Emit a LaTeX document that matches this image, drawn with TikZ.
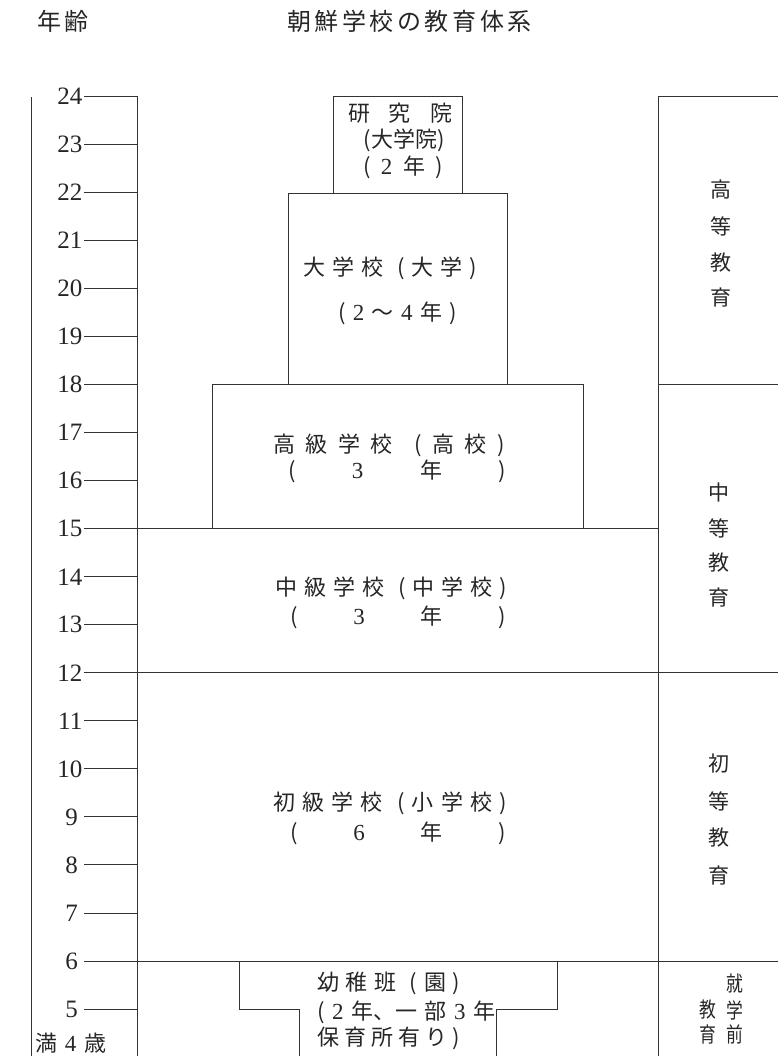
\documentclass[tikz,border=0pt]{standalone}
\usepackage{fontspec}
\newfontfamily\jp{Noto Sans CJK JP}
\newfontfamily\numf{Liberation Serif}
\newcommand\spr[2]{\makebox[#1][s]{#2}}
\newcommand\dg[1]{{\numf\fontsize{23}{23}\selectfont #1}}
\begin{document}
\begin{tikzpicture}[x=1pt,y=-1pt,
  ln/.style={draw=black!80, line width=1pt},
  num/.style={font=\numf\fontsize{25}{25}\selectfont, text=black!85, inner sep=0, anchor=east},
  jt/.style={font=\jp\fontsize{22}{27}\selectfont, text=black!85, inner sep=0},
  side/.style={font=\jp\fontsize{21}{24}\selectfont, text=black!85, inner sep=0},
  ttl/.style={font=\jp\fontsize{24}{28}\selectfont, text=black!85, inner sep=0}]
\useasboundingbox (0,0) rectangle (778,1056);
% titles
\node[ttl] (age) at (62,21) {\spr{50pt}{年 齢}};
\node[ttl] (title) at (406,21) {\spr{238pt}{朝 鮮 学 校 の 教 育 体 系}};
% axis
\draw[ln] (31.7,97) -- (31.7,1056);
\draw[ln] (137,96.5) -- (137,1056);
\foreach \a in {5,...,24}{
  \pgfmathsetmacro\yy{96.5+(24-\a)*48.03}
  \pgfmathsetmacro\xx{\a<10 ? 78 : 82.5}
  \node[num] (n\a) at (\xx,\yy) {\a};
  \draw[ln] (84,\yy) -- (137,\yy);
}
% research institute
\draw[ln] (333.3,193.3) -- (333.3,96.5) -- (462.7,96.5) -- (462.7,193.3);
\node[jt] (res1) at (400,113) {\spr{104pt}{研 究 院}};
\node[jt] (res2) at (404,140) {(大学院)};
\node[jt] (res3) at (403,167) {\spr{80pt}{( \dg{2} 年 )}};
% university
\draw[ln] (288.3,384.7) -- (288.3,193.3) -- (507.3,193.3) -- (507.3,384.7);
\node[jt] (uni1) at (390,268) {\spr{174pt}{大 学 校 \ ( 大 学 )}};
\node[jt] (uni2) at (397.5,313) {\spr{119pt}{( \dg{2} 〜 \dg{4} 年 )}};
% high school
\draw[ln] (212,528.8) -- (212,384.7) -- (583,384.7) -- (583,528.8);
\node[jt] (hs1) at (389,445) {\spr{232pt}{高 級 学 校 \ ( 高 校 )}};
\node[jt] (hs2) at (397,471) {\spr{218pt}{( \dg{3} 年 )}};
% middle school
\draw[ln] (137,528.8) -- (658,528.8);
\node[jt] (ms1) at (391,588) {\spr{232pt}{中 級 学 校 \ ( 中 学 校 )}};
\node[jt] (ms2) at (398,617) {\spr{216pt}{( \dg{3} 年 )}};
% elementary
\draw[ln] (137,672.9) -- (778,672.9);
\node[jt] (es1) at (390,803) {\spr{234pt}{初 級 学 校 \ ( 小 学 校 )}};
\node[jt] (es2) at (398,833) {\spr{216pt}{( \dg{6} 年 )}};
% kindergarten
\draw[ln] (137,961) -- (778,961);
\draw[ln] (239,961) -- (239,1009) -- (299,1009) -- (299,1056);
\draw[ln] (557,961) -- (557,1009) -- (496,1009) -- (496,1056);
\node[jt, anchor=west] (kg1) at (317,983) {\spr{143pt}{幼 稚 班\ \ ( 園 )}};
\node[jt, anchor=west] (kg2) at (317,1012) {\spr{178pt}{( \dg{2} 年、一 部 \dg{3} 年}};
\node[jt, anchor=west] (kg3) at (317,1038) {\spr{143pt}{保 育 所 有 り )}};
\node[jt, anchor=west] (age4) at (35,1043) {\spr{71pt}{満 \dg{4} 歳}};
% right column
\draw[ln] (658,96.5) -- (658,1056);
\draw[ln] (658,96.5) -- (778,96.5);
\draw[ln] (658,384.7) -- (778,384.7);
\node[side] (h1) at (721,190) {高};
\node[side] (h2) at (721,226) {等};
\node[side] (h3) at (721,263) {教};
\node[side] (h4) at (721,298) {育};
\node[side] (m1) at (719,493) {中};
\node[side] (m2) at (719,528) {等};
\node[side] (m3) at (719,563) {教};
\node[side] (m4) at (719,598) {育};
\node[side] (e1) at (719,764) {初};
\node[side] (e2) at (719,801) {等};
\node[side] (e3) at (719,838) {教};
\node[side] (e4) at (719,875) {育};
\node[side] (p1) at (735,984) {\scalebox{0.8}[1]{就}};
\node[side] (p2) at (735,1010) {\scalebox{0.8}[1]{学}};
\node[side] (p3) at (735,1034) {\scalebox{0.8}[1]{前}};
\node[side] (p4) at (708,1010) {\scalebox{0.8}[1]{教}};
\node[side] (p5) at (708,1034) {\scalebox{0.8}[1]{育}};
\end{tikzpicture}
\end{document}
